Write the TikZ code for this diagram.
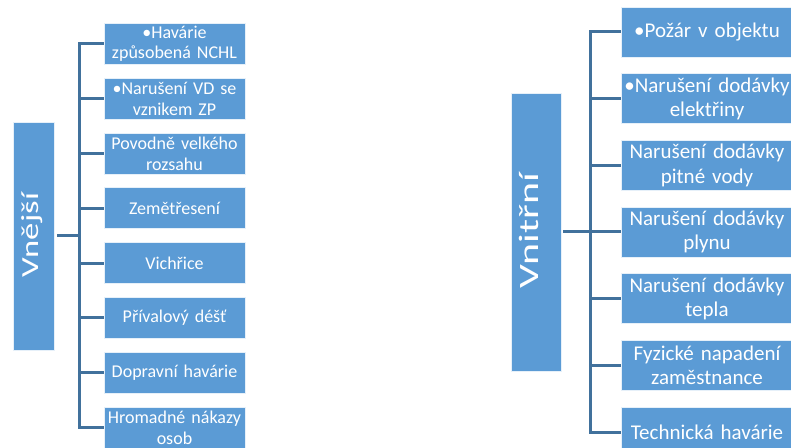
\documentclass[tikz,border=0pt]{standalone}
\usepackage{fontspec}
\setmainfont{Carlito}
\usetikzlibrary{calc}
\definecolor{boxblue}{HTML}{5B9BD5}
\definecolor{linkblue}{HTML}{41719C}
\begin{document}
\begin{tikzpicture}[x=1bp,y=-1bp,
  catbox/.style={fill=boxblue,draw=white!85!boxblue,line width=0.8bp,inner sep=0pt},
  leftitem/.style={catbox,minimum width=141bp,minimum height=41bp,text width=141bp,
    align=center,text=white,font=\fontsize{18bp}{20.5bp}\selectfont},
  rightitem/.style={catbox,minimum width=172bp,minimum height=50bp,text width=172bp,
    align=center,text=white,font=\fontsize{21bp}{24.5bp}\selectfont},
  vlabel/.style={text=white,rotate=90,anchor=base,inner sep=0pt},
  conn/.style={draw=linkblue,line width=3bp}]
\useasboundingbox (0,0) rectangle (791,448);

% external group
\node[catbox,minimum width=41bp,minimum height=228bp] (vne) at (33.5,236) {};
\node[vlabel] at (38.3,235) {\resizebox{84bp}{\height}{\fontsize{24.5bp}{24.5bp}\selectfont Vnější}};
\node[leftitem] (l1) at (174.5,44)    {•Havárie\\způsobená NCHL};
\node[leftitem] (l2) at (174.5,98.8)  {•Narušení VD se\\vznikem ZP};
\node[leftitem] (l3) at (174.5,153.6) {Povodně velkého\\rozsahu};
\node[leftitem] (l4) at (174.5,208.4) {Zemětřesení};
\node[leftitem] (l5) at (174.5,263.2) {Vichřice};
\node[leftitem] (l6) at (174.5,318)   {Přívalový déšť};
\node[leftitem] (l7) at (174.5,372.8) {Dopravní havárie};
\node[leftitem] (l8) at (174.5,427.6) {Hromadné nákazy\\osob};
\coordinate (tl) at (79,236);
\draw[conn,shorten <=3bp] (vne.east) -- (tl);
\foreach \k in {1,...,8} {\draw[conn] (tl) |- (l\k.west);}

% internal group
\node[catbox,minimum width=50bp,minimum height=278bp] (vni) at (536,232) {};
\node[vlabel] at (538.5,230.5) {\resizebox{115bp}{\height}{\fontsize{28bp}{28bp}\selectfont Vnitřní}};
\node[rightitem] (r1) at (707,32)    {•Požár v objektu};
\node[rightitem] (r2) at (707,98.7)  {•Narušení dodávky\\elektřiny};
\node[rightitem] (r3) at (707,165.3) {Narušení dodávky\\pitné vody};
\node[rightitem] (r4) at (707,232)   {Narušení dodávky\\plynu};
\node[rightitem] (r5) at (707,298.7) {Narušení dodávky\\tepla};
\node[rightitem] (r6) at (707,365.3) {Fyzické napadení\\zaměstnance};
\node[rightitem] (r7) at (707,432)   {Technická havárie};
\coordinate (tr) at (590,232);
\draw[conn,shorten <=2bp] (vni.east) -- (tr);
\foreach \k in {1,...,7} {\draw[conn] (tr) |- (r\k.west);}
\end{tikzpicture}
\end{document}
